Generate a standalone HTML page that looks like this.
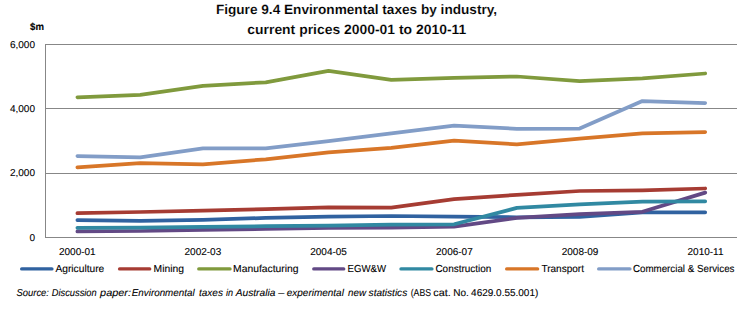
<!DOCTYPE html><html><head><meta charset="utf-8"><style>html,body{margin:0;padding:0;background:#fff;overflow:hidden}svg{display:block}text{font-family:"Liberation Sans",sans-serif;stroke:#000;stroke-width:0.1px;text-rendering:geometricPrecision}</style></head><body>
<svg width="742" height="309" viewBox="0 0 742 309">
<rect width="742" height="309" fill="#fff"/>
<text x="215.9" y="14.0" font-size="13.5" font-weight="bold" fill="#000000" style="stroke:#fff;stroke-width:0.12px" textLength="281.2" lengthAdjust="spacingAndGlyphs">Figure 9.4 Environmental taxes by industry,</text>
<text x="247.3" y="34.0" font-size="13.5" font-weight="bold" fill="#000000" style="stroke:#fff;stroke-width:0.12px" textLength="219" lengthAdjust="spacingAndGlyphs">current prices 2000-01 to 2010-11</text>
<text x="30.1" y="30" font-size="10" font-weight="bold" fill="#000000" textLength="13.9" lengthAdjust="spacingAndGlyphs">$m</text>
<line x1="45" y1="44.5" x2="737" y2="44.5" stroke="#878787" stroke-width="1"/>
<line x1="45" y1="108.5" x2="737" y2="108.5" stroke="#878787" stroke-width="1"/>
<line x1="45" y1="173.5" x2="737" y2="173.5" stroke="#878787" stroke-width="1"/>
<line x1="45" y1="237.5" x2="737" y2="237.5" stroke="#878787" stroke-width="1"/>
<line x1="45.5" y1="44" x2="45.5" y2="238" stroke="#878787" stroke-width="1"/>
<text x="35" y="48.2" font-size="10" fill="#000000" text-anchor="end">6,000</text>
<text x="35" y="112.2" font-size="10" fill="#000000" text-anchor="end">4,000</text>
<text x="35" y="176.2" font-size="10" fill="#000000" text-anchor="end">2,000</text>
<text x="35" y="241.0" font-size="10" fill="#000000" text-anchor="end">0</text>
<text x="77.35" y="255" font-size="10" fill="#000000" text-anchor="middle">2000-01</text>
<text x="202.90" y="255" font-size="10" fill="#000000" text-anchor="middle">2002-03</text>
<text x="328.60" y="255" font-size="10" fill="#000000" text-anchor="middle">2004-05</text>
<text x="454.40" y="255" font-size="10" fill="#000000" text-anchor="middle">2006-07</text>
<text x="580.10" y="255" font-size="10" fill="#000000" text-anchor="middle">2008-09</text>
<text x="705.50" y="255" font-size="10" fill="#000000" text-anchor="middle">2010-11</text>
<polyline points="77.40,220.10 140.18,220.90 202.96,219.80 265.74,217.90 328.52,216.70 391.30,216.00 454.08,216.70 516.86,217.30 579.64,216.90 642.42,212.30 705.20,212.30" fill="none" stroke="#3062A0" stroke-width="3.75" stroke-linecap="round" stroke-linejoin="round"/>
<polyline points="77.40,213.20 140.18,212.00 202.96,210.60 265.74,209.20 328.52,207.40 391.30,207.70 454.08,199.20 516.86,194.80 579.64,191.00 642.42,190.30 705.20,188.50" fill="none" stroke="#A63C33" stroke-width="3.75" stroke-linecap="round" stroke-linejoin="round"/>
<polyline points="77.40,97.30 140.18,94.80 202.96,85.80 265.74,82.30 328.52,70.80 391.30,79.80 454.08,77.80 516.86,76.50 579.64,81.10 642.42,78.30 705.20,73.50" fill="none" stroke="#809A3D" stroke-width="3.75" stroke-linecap="round" stroke-linejoin="round"/>
<polyline points="77.40,231.40 140.18,231.00 202.96,229.90 265.74,228.90 328.52,227.90 391.30,227.70 454.08,226.70 516.86,217.90 579.64,214.10 642.42,211.80 705.20,192.60" fill="none" stroke="#624985" stroke-width="3.75" stroke-linecap="round" stroke-linejoin="round"/>
<polyline points="77.40,227.80 140.18,227.60 202.96,226.90 265.74,226.20 328.52,225.60 391.30,224.60 454.08,224.30 516.86,207.90 579.64,204.30 642.42,201.70 705.20,201.30" fill="none" stroke="#3189A2" stroke-width="3.75" stroke-linecap="round" stroke-linejoin="round"/>
<polyline points="77.40,167.30 140.18,163.05 202.96,164.30 265.74,159.30 328.52,152.30 391.30,147.80 454.08,140.55 516.86,144.30 579.64,138.55 642.42,133.30 705.20,132.05" fill="none" stroke="#D87628" stroke-width="3.75" stroke-linecap="round" stroke-linejoin="round"/>
<polyline points="77.40,156.05 140.18,157.30 202.96,148.30 265.74,148.30 328.52,141.05 391.30,133.30 454.08,125.55 516.86,128.80 579.64,128.55 642.42,101.05 705.20,103.05" fill="none" stroke="#829DC7" stroke-width="3.75" stroke-linecap="round" stroke-linejoin="round"/>
<line x1="21.70" y1="268.9" x2="51.90" y2="268.9" stroke="#3062A0" stroke-width="3.4" stroke-linecap="round"/>
<text x="55.4" y="271.9" font-size="10.2" fill="#000000" textLength="48.9" lengthAdjust="spacingAndGlyphs">Agriculture</text>
<line x1="119.60" y1="268.9" x2="149.70" y2="268.9" stroke="#A63C33" stroke-width="3.4" stroke-linecap="round"/>
<text x="153.6" y="271.9" font-size="10.2" fill="#000000" textLength="30.4" lengthAdjust="spacingAndGlyphs">Mining</text>
<line x1="198.80" y1="268.9" x2="230.00" y2="268.9" stroke="#809A3D" stroke-width="3.4" stroke-linecap="round"/>
<text x="233.1" y="271.9" font-size="10.2" fill="#000000" textLength="65.5" lengthAdjust="spacingAndGlyphs">Manufacturing</text>
<line x1="313.80" y1="268.9" x2="343.70" y2="268.9" stroke="#624985" stroke-width="3.4" stroke-linecap="round"/>
<text x="347.6" y="271.9" font-size="10.2" fill="#000000" textLength="38.4" lengthAdjust="spacingAndGlyphs">EGW&amp;W</text>
<line x1="401.00" y1="268.9" x2="431.90" y2="268.9" stroke="#3189A2" stroke-width="3.4" stroke-linecap="round"/>
<text x="435.4" y="271.9" font-size="10.2" fill="#000000" textLength="56.0" lengthAdjust="spacingAndGlyphs">Construction</text>
<line x1="506.70" y1="268.9" x2="537.60" y2="268.9" stroke="#D87628" stroke-width="3.4" stroke-linecap="round"/>
<text x="541.4" y="271.9" font-size="10.2" fill="#000000" textLength="42.6" lengthAdjust="spacingAndGlyphs">Transport</text>
<line x1="598.70" y1="268.9" x2="629.90" y2="268.9" stroke="#829DC7" stroke-width="3.4" stroke-linecap="round"/>
<text x="632.9" y="271.9" font-size="10.2" fill="#000000" textLength="101.6" lengthAdjust="spacingAndGlyphs">Commercial &amp; Services</text>
<text x="16.6" y="295.7" font-size="10" fill="#000000" font-style="italic" textLength="32.3" lengthAdjust="spacingAndGlyphs">Source:</text>
<text x="51.8" y="295.7" font-size="10" fill="#000000" font-style="italic" textLength="44.9" lengthAdjust="spacingAndGlyphs">Discussion</text>
<text x="100.1" y="295.7" font-size="10" fill="#000000" font-style="italic" textLength="30.9" lengthAdjust="spacingAndGlyphs">paper:</text>
<text x="131.8" y="295.7" font-size="10" fill="#000000" font-style="italic" textLength="62.8" lengthAdjust="spacingAndGlyphs">Environmental</text>
<text x="199.0" y="295.7" font-size="10" fill="#000000" font-style="italic" textLength="23.9" lengthAdjust="spacingAndGlyphs">taxes</text>
<text x="226.1" y="295.7" font-size="10" fill="#000000" font-style="italic" textLength="7.1" lengthAdjust="spacingAndGlyphs">in</text>
<text x="235.8" y="295.7" font-size="10" fill="#000000" font-style="italic" textLength="39.5" lengthAdjust="spacingAndGlyphs">Australia</text>
<text x="278.3" y="295.7" font-size="10" fill="#000000" font-style="italic" textLength="6.0" lengthAdjust="spacingAndGlyphs">–</text>
<text x="286.8" y="295.7" font-size="10" fill="#000000" font-style="italic" textLength="57.1" lengthAdjust="spacingAndGlyphs">experimental</text>
<text x="348.0" y="295.7" font-size="10" fill="#000000" font-style="italic" textLength="18.0" lengthAdjust="spacingAndGlyphs">new</text>
<text x="368.6" y="295.7" font-size="10" fill="#000000" font-style="italic" textLength="38.6" lengthAdjust="spacingAndGlyphs">statistics</text>
<text x="410.7" y="295.7" font-size="10" fill="#000000" textLength="20.3" lengthAdjust="spacingAndGlyphs">(ABS</text>
<text x="433.3" y="295.7" font-size="10" fill="#000000" textLength="17.5" lengthAdjust="spacingAndGlyphs">cat.</text>
<text x="453.3" y="295.7" font-size="10" fill="#000000" textLength="15.6" lengthAdjust="spacingAndGlyphs">No.</text>
<text x="471.1" y="295.7" font-size="10" fill="#000000" textLength="67.2" lengthAdjust="spacingAndGlyphs">4629.0.55.001)</text>
</svg></body></html>
